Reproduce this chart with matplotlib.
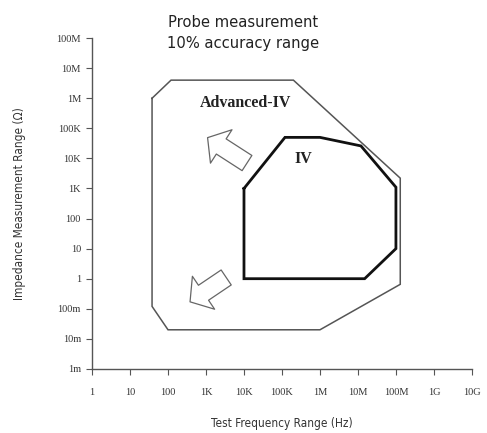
import matplotlib.pyplot as plt

# frequency (Hz) / impedance (ohm) corners of each range
adv_f = [38, 120, 2e5, 1.3e8, 1.3e8, 1e6, 100, 38, 38]
adv_z = [1e6, 4e6, 4e6, 2.2e3, 0.65, 0.02, 0.02, 0.12, 1e6]
iv_f = [1e4, 1.2e5, 1e6, 1.2e7, 1e8, 1e8, 1.5e7, 1e4, 1e4]
iv_z = [1e3, 5e4, 5e4, 2.6e4, 1.1e3, 10, 1, 1, 1e3]

xticks = [1, 10, 100, 1e3, 1e4, 1e5, 1e6, 1e7, 1e8, 1e9, 1e10]
xlabels = ['1', '10', '100', '1K', '10K', '100K', '1M', '10M', '100M', '1G', '10G']
yticks = [1e-3, 1e-2, 0.1, 1, 10, 100, 1e3, 1e4, 1e5, 1e6, 1e7, 1e8]
ylabels = ['1m', '10m', '100m', '1', '10', '100', '1K', '10K', '100K', '1M', '10M', '100M']

# arrows: (tail, tip)
arrows = [((1.2e4, 7e3), (1.1e3, 4.9e4)),
          ((3.4e3, 1.1), (380, 0.17))]

sans = ['DejaVu Sans']

fig = plt.figure(figsize=(4.87, 4.33), dpi=100)
ax = fig.add_axes([0.189, 0.148, 0.780, 0.764])
ax.set_xscale('log'); ax.set_yscale('log')
ax.set_xlim(1, 1e10); ax.set_ylim(1e-3, 1e8)

ax.plot(adv_f, adv_z, color='#555555', lw=1.1, solid_joinstyle='miter')
ax.plot(iv_f, iv_z, color='#111111', lw=2.0, solid_joinstyle='miter')

for (t, h) in arrows:
    ax.annotate('', xy=h, xytext=t,
                arrowprops=dict(arrowstyle='simple,head_width=2.2,head_length=0.9,tail_width=1.0',
                                fc='white', ec='#666666', lw=0.9, shrinkA=0, shrinkB=0,
                                mutation_scale=13))

ax.text(1.07e4, 6.8e5, 'Advanced-IV', family='Liberation Serif', weight='bold',
        fontsize=11.5, ha='center', va='center', color='#222222')
ax.text(3.6e5, 9.8e3, 'IV', family='Liberation Serif', weight='bold',
        fontsize=11.5, ha='center', va='center', color='#222222')

ax.set_xticks(xticks)
ax.set_xticklabels(xlabels, family='Liberation Serif', fontsize=7.5, color='#333333')
ax.set_yticks(yticks)
ax.set_yticklabels(ylabels, family='Liberation Serif', fontsize=7.5, color='#333333')
ax.minorticks_off()
ax.tick_params(axis='x', direction='out', length=4, pad=10, color='#555555')
ax.tick_params(axis='y', direction='out', length=4, pad=4, color='#555555')
for s in ['top', 'right']:
    ax.spines[s].set_visible(False)
for s in ['left', 'bottom']:
    ax.spines[s].set_color('#555555')
    ax.spines[s].set_linewidth(1.0)

ax.set_xlabel('Test Frequency Range (Hz)', family=sans, stretch='condensed',
              fontsize=8.5, color='#333333', labelpad=14)
ax.set_ylabel('Impedance Measurement Range (\u03a9)', family=sans, stretch='condensed',
              fontsize=8.5, color='#333333', labelpad=22)
fig.text(0.5, 0.924, 'Probe measurement\n10% accuracy range', ha='center', va='center',
         family=sans, stretch='condensed', fontsize=11.8, color='#222222',
         linespacing=1.45)

fig.savefig('out.png', dpi=100, facecolor='white')
